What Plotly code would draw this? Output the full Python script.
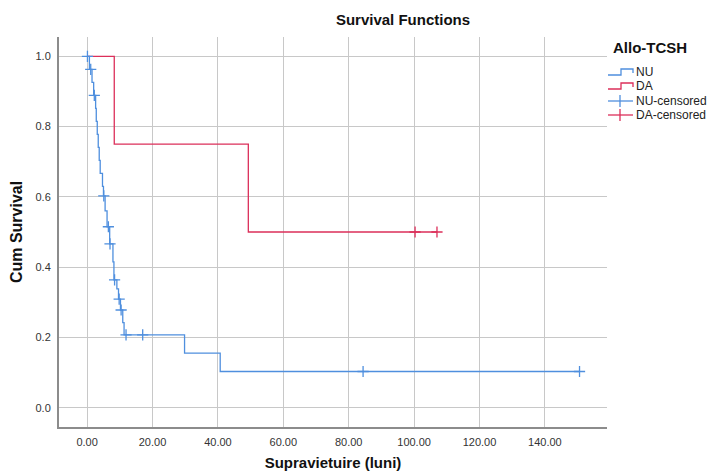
import plotly.graph_objects as go

# Kaplan-Meier step points (time in months, cumulative survival)
nu_time = [0, 0.7, 1.5, 2.0, 2.6, 2.8, 3.1, 3.4, 3.7, 4.0, 4.7, 5.0, 5.5, 6.1,
           6.9, 7.9, 8.2, 9.1, 9.6, 10.2, 10.9, 11.3, 29.8, 40.7]
nu_surv = [1.0, 0.963, 0.926, 0.889, 0.852, 0.815, 0.778, 0.741, 0.704, 0.667,
           0.630, 0.603, 0.560, 0.515, 0.466, 0.415, 0.364, 0.338, 0.309, 0.278,
           0.242, 0.207, 0.155, 0.103]
nu_end = 150.6

da_time = [0, 8.3, 49.3]
da_surv = [1.0, 0.75, 0.5]
da_end = 107.0

# Censored observations
nu_cens_time = [0.1, 1.1, 2.2, 5.1, 6.5, 7.0, 8.4, 9.8, 10.4, 11.9, 17.0, 84.4, 150.6]
nu_cens_surv = [1.0, 0.963, 0.889, 0.603, 0.515, 0.466, 0.364, 0.309, 0.278,
                0.207, 0.207, 0.103, 0.103]
da_cens_time = [100.3, 107.0]
da_cens_surv = [0.5, 0.5]

x_ticks = [0, 20, 40, 60, 80, 100, 120, 140]
y_ticks = [0.0, 0.2, 0.4, 0.6, 0.8, 1.0]

legend_title = "Allo-TCSH"
legend_labels = ["NU", "DA", "NU-censored", "DA-censored"]

BLUE = "#4f8fde"
RED = "#dc2f5a"
FONT = "Liberation Sans, Arial, sans-serif"

W, H = 710, 471
ML, MR, MT, MB = 59, 103, 37, 44
PW, PH = W - ML - MR, H - MT - MB


def px_x(px):
    """Canvas pixel column -> paper x."""
    return (px - ML) / PW


def px_y(py):
    """Canvas pixel row -> paper y."""
    return (H - MB - py) / PH


fig = go.Figure()

fig.add_trace(go.Scatter(
    x=nu_time + [nu_end], y=nu_surv + [nu_surv[-1]], mode="lines",
    line=dict(color=BLUE, width=1.3, shape="hv"), name="NU", showlegend=False))
fig.add_trace(go.Scatter(
    x=da_time + [da_end], y=da_surv + [da_surv[-1]], mode="lines",
    line=dict(color=RED, width=1.3, shape="hv"), name="DA", showlegend=False))

for tx, ty, col, nm in [(nu_cens_time, nu_cens_surv, BLUE, "NU-censored"),
                        (da_cens_time, da_cens_surv, RED, "DA-censored")]:
    fig.add_trace(go.Scatter(
        x=tx, y=ty, mode="markers", name=nm, showlegend=False,
        marker=dict(symbol="cross-thin", size=8, color=col,
                    line=dict(color=col, width=1.3))))

# Legend drawn beside the plot: step icons for curves, crossed lines for censoring
shapes = []
annotations = []
icon_x0, icon_x1 = 608, 633
rows_y = [72, 86, 101, 115]
colors = [BLUE, RED, BLUE, RED]
for i, (label, yc, col) in enumerate(zip(legend_labels, rows_y, colors)):
    if i < 2:
        xm = 621
        path = (f"M {px_x(icon_x0)} {px_y(yc + 3)} L {px_x(xm)} {px_y(yc + 3)} "
                f"L {px_x(xm)} {px_y(yc - 3)} L {px_x(icon_x1)} {px_y(yc - 3)} "
                f"L {px_x(icon_x1)} {px_y(yc + 1)}")
        shapes.append(dict(type="path", xref="paper", yref="paper", path=path,
                           line=dict(color=col, width=1.3)))
    else:
        shapes.append(dict(type="line", xref="paper", yref="paper",
                           x0=px_x(icon_x0), x1=px_x(icon_x1),
                           y0=px_y(yc), y1=px_y(yc),
                           line=dict(color=col, width=1.3)))
        shapes.append(dict(type="line", xref="paper", yref="paper",
                           x0=px_x(620), x1=px_x(620),
                           y0=px_y(yc - 6), y1=px_y(yc + 6),
                           line=dict(color=col, width=1.3)))
    annotations.append(dict(text=label, xref="paper", yref="paper",
                            x=px_x(634), y=px_y(yc), xanchor="left",
                            yanchor="middle", showarrow=False,
                            font=dict(family=FONT, size=12, color="#222222")))
annotations.append(dict(text=legend_title, xref="paper", yref="paper",
                        x=px_x(611), y=px_y(47), xanchor="left", yanchor="middle",
                        showarrow=False,
                        font=dict(family=FONT, size=15, weight="bold",
                                  color="#111111")))

fig.update_layout(
    width=W, height=H,
    margin=dict(l=ML, r=MR, t=MT, b=MB, autoexpand=False),
    paper_bgcolor="white", plot_bgcolor="white",
    font=dict(family=FONT, size=11, color="#222222"),
    showlegend=False,
    title=dict(text="Survival Functions", xref="container", yref="container",
               x=403 / W, y=1 - 20 / H, xanchor="center", yanchor="middle",
               font=dict(family=FONT, size=15, weight="bold", color="#111111")),
    shapes=shapes,
    annotations=annotations,
)

fig.update_xaxes(
    range=[-8.6, 159], tickvals=x_ticks, tickformat=".2f",
    showgrid=True, gridcolor="#c8c8c8", gridwidth=1, zeroline=False,
    showline=True, linecolor="#8c8c8c", linewidth=2,
    ticks="outside", ticklen=4, tickcolor="rgba(0,0,0,0)",
    tickfont=dict(family=FONT, size=11, color="#333333"),
    title=dict(text="Supravietuire (luni)", standoff=11,
               font=dict(family=FONT, size=15, weight="bold", color="#111111")),
    automargin=False)
fig.update_yaxes(
    range=[-0.055, 1.055], tickvals=y_ticks, tickformat=".1f",
    showgrid=True, gridcolor="#c8c8c8", gridwidth=1, zeroline=False,
    showline=True, linecolor="#8c8c8c", linewidth=2,
    ticks="outside", ticklen=4, tickcolor="rgba(0,0,0,0)",
    tickfont=dict(family=FONT, size=11, color="#333333"),
    title=dict(text="Cum Survival", standoff=9,
               font=dict(family=FONT, size=16, weight="bold", color="#111111")),
    automargin=False)

fig.write_html("out.html")
